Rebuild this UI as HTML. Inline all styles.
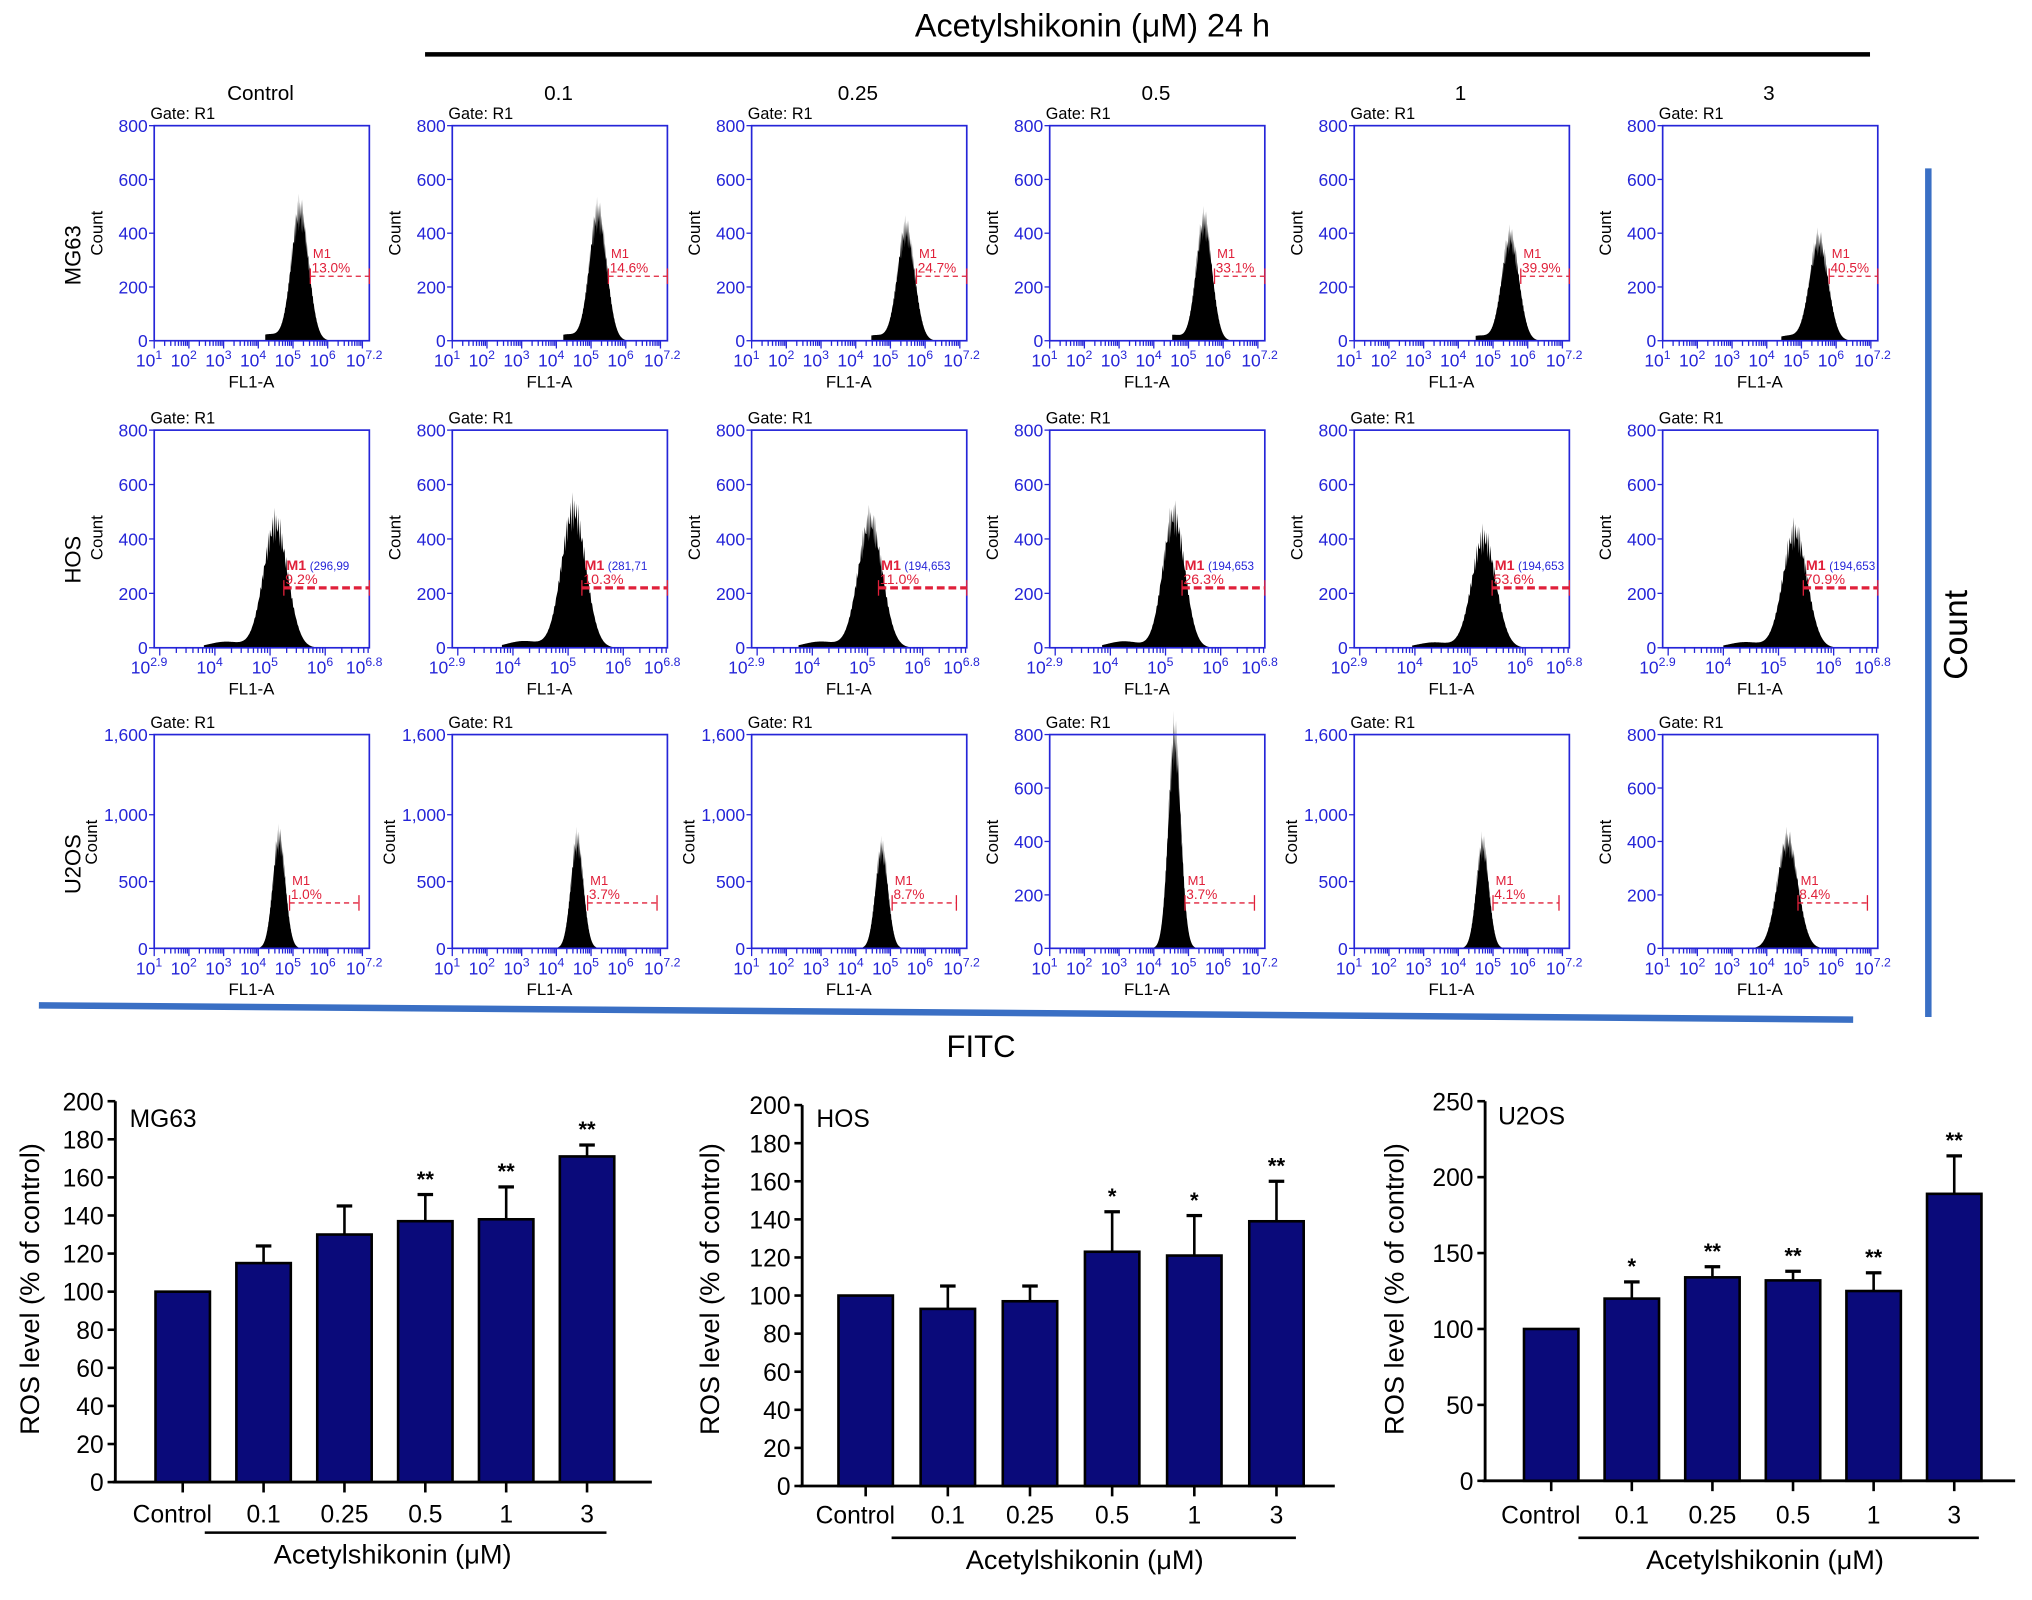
<!DOCTYPE html>
<html><head><meta charset="utf-8"><style>
html,body{margin:0;padding:0;background:#fff;}
svg{display:block;font-family:"Liberation Sans",sans-serif;}
</style></head><body>
<svg id="fig" width="2032" height="1600" viewBox="0 0 1568 1235" preserveAspectRatio="none" xmlns="http://www.w3.org/2000/svg">
<text x="843" y="28" font-size="25" text-anchor="middle">Acetylshikonin (μM) 24 h</text>
<line x1="328" y1="42" x2="1443" y2="42" stroke="#000" stroke-width="3.5"/>
<line x1="1488" y1="130" x2="1488" y2="785" stroke="#3a6fc4" stroke-width="5"/>
<text x="1518" y="490" font-size="26" text-anchor="middle" transform="rotate(-90 1518 490)">Count</text>
<line x1="30" y1="776" x2="1430" y2="787" stroke="#3a6fc4" stroke-width="5"/>
<text x="757" y="816" font-size="24" text-anchor="middle">FITC</text>
<g id="hists"></g>
<g id="bars"></g>
</svg>
<script>
const NS="http://www.w3.org/2000/svg";
function mk(tag,attrs,parent,text){const e=document.createElementNS(NS,tag);for(const k in attrs)e.setAttribute(k,attrs[k]);if(text!==undefined)e.textContent=text;parent.appendChild(e);return e;}

// ---------- Flow histogram data ----------
const colLabels=["Control","0.1","0.25","0.5","1","3"];
const rowLabels=["MG63","HOS","U2OS"];
const rowXMin=[1,2.9,1];
const rowXMax=[7.2,6.8,7.2];
const rowXTicks=[["1","2","3","4","5","6","7.2"],["2.9","4","5","6","6.8"],["1","2","3","4","5","6","7.2"]];
const yMaxGrid=[[800,800,800,800,800,800],[800,800,800,800,800,800],[1600,1600,1600,800,1600,800]];
const peakLog=[[5.2,5.2,5.45,5.45,5.5,5.5],[5.1,5.1,5.05,5.15,5.25,5.3],[4.6,4.6,4.75,4.6,4.7,4.6]];
const peakCount=[[480,470,410,440,380,370],[450,500,460,480,400,420],[820,800,740,780,770,400]];
const peakWidth=[[0.25,0.25,0.25,0.23,0.25,0.27],[0.22,0.22,0.22,0.2,0.22,0.22],[0.18,0.18,0.18,0.18,0.18,0.3]];
const m1Pct=[["13.0%","14.6%","24.7%","33.1%","39.9%","40.5%"],["9.2%","10.3%","11.0%","26.3%","53.6%","70.9%"],["1.0%","3.7%","8.7%","3.7%","4.1%","8.4%"]];
const m1Extra=["(296,99","(281,71","(194,653","(194,653","(194,653","(194,653"];
const m1Level=[[240,240,240,240,240,240],[220,220,220,220,220,220],[340,340,340,170,340,170]];

const colLeft=[119,349,580,810,1045,1283];
const boxW=166;
const rowTop=[97,332,567];
const boxH=[166,168,165];
const blue="#2525d8", red="#e0203a";
const H=document.getElementById('hists');

for(let r=0;r<3;r++){
  const lab=mk('text',{x:62,y:rowTop[r]+100,'font-size':17,'text-anchor':'middle',transform:`rotate(-90 62 ${rowTop[r]+100})`},H,rowLabels[r]);
  
  
  for(let c=0;c<6;c++){
    const g=mk('g',{},H);
    
    
    const L=colLeft[c],T=rowTop[r],W=boxW,Hh=boxH[r],B=T+Hh;
    const xmin=rowXMin[r],xmax=rowXMax[r],ymax=yMaxGrid[r][c];
    const xs=v=>L+(v-xmin)/(xmax-xmin)*W;
    const ys=v=>B-v/ymax*Hh;
    if(r===0){const h=mk('text',{x:L+82,y:77,'font-size':16,'text-anchor':'middle'},g,colLabels[c]);
      }
    mk('text',{x:L-3,y:T-5,'font-size':12.5},g,'Gate: R1');
    const pl=peakLog[r][c],pc=peakCount[r][c],sw=peakWidth[r][c];
    const lo=r===1?pl-1.3:pl-4*sw;
    let d=`M${xs(lo)},${B}`;
    const n=140;
    for(let i=0;i<=n;i++){
      const v=lo+(pl+4*sw-lo)*i/n;
      const z=(v-pl)/sw;
      let cnt=pc*Math.exp(-0.5*z*z);
      if(r!==2&&v<pl)cnt+=pc*0.05*Math.exp(-0.5*((v-(pl-0.9))/0.3)**2);
      cnt*=1+0.15*Math.sin(i*2.7)*Math.exp(-0.5*z*z);
      d+=` L${xs(v)},${ys(Math.max(0,cnt))}`;
    }
    d+=` L${xs(pl+4*sw)},${B} Z`;
    const p=mk('path',{d,fill:'#000'},g);
    
    mk('rect',{x:L,y:T,width:W,height:Hh,fill:'none',stroke:blue,'stroke-width':1.3},g);
    const labs=ymax===1600?[0,500,1000,1600]:[0,200,400,600,800];
    labs.forEach(v=>{
      mk('line',{x1:L-4,x2:L,y1:ys(v),y2:ys(v),stroke:blue,'stroke-width':1},g);
      mk('text',{x:L-5,y:ys(v)+5,'font-size':13.5,fill:blue,'text-anchor':'end'},g,v>=1000?v.toLocaleString('en-US'):String(v));
    });
    const cx=L-(ymax===1600?44:40);
    mk('text',{x:cx,y:T+83,'font-size':13,'text-anchor':'middle',transform:`rotate(-90 ${cx} ${T+83})`},g,'Count');
    for(let v=Math.ceil(xmin);v<=xmax;v++){
      for(let k=1;k<10;k++){const lv=v+Math.log10(k);if(lv>xmax)break;
        mk('line',{x1:xs(lv),x2:xs(lv),y1:B,y2:B+(k===1?6:4),stroke:blue,'stroke-width':1},g);}
    }
    rowXTicks[r].forEach(t=>{
      const x=xs(parseFloat(t));
      const tx=mk('text',{x:x-4,y:B+20,'font-size':13.5,fill:blue,'text-anchor':'middle'},g);
      mk('tspan',{},tx,'10');
      mk('tspan',{dy:-6,'font-size':9.5},tx,t);
    });
    mk('text',{x:L+W/2-8,y:B+36,'font-size':13,'text-anchor':'middle'},g,'FL1-A');
    const mx=xs(pl+(r===1?0.15:0.3)),my=ys(m1Level[r][c]);
    const mxEnd=r===2?L+W-8:L+W;
    mk('line',{x1:mx,x2:mxEnd,y1:my,y2:my,stroke:red,'stroke-width':r===1?2.5:1,'stroke-dasharray':r===1?'6,3':'4,3'},g);
    mk('line',{x1:mx,x2:mx,y1:my-6,y2:my+6,stroke:red,'stroke-width':1},g);
    mk('line',{x1:mxEnd,x2:mxEnd,y1:my-6,y2:my+6,stroke:red,'stroke-width':1},g);
    mk('text',{x:mx+2,y:my-14,'font-size':r===1?11:10,fill:red,'font-weight':r===1?'bold':'normal'},g,'M1');
    mk('text',{x:mx+1,y:my-3,'font-size':r===1?11:10.5,fill:red},g,m1Pct[r][c]);
    if(r===1) mk('text',{x:mx+20,y:my-14,'font-size':9,fill:blue},g,m1Extra[c]);
  }
}

// ---------- Bar chart data ----------
const barCategories=["Control","0.1","0.25","0.5","1","3"];
const mg63Values=[100,115,130,137,138,171];
const mg63Errors=[0,9,15,14,17,6];
const mg63Stars=["","","","**","**","**"];
const hosValues=[100,93,97,123,121,139];
const hosErrors=[0,12,8,21,21,21];
const hosStars=["","","","*","*","**"];
const u2osValues=[100,120,134,132,125,189];
const u2osErrors=[0,11,7,6,12,25];
const u2osStars=["","*","**","**","**","**"];

const charts=[
 {name:'mg63',label:'MG63',vals:mg63Values,errs:mg63Errors,stars:mg63Stars,ax:89,y0:1144,ytop:850,ymax:200,step:20,firstX:141,dx:62.4,xend:503,ytitleX:30,labelX:100,labelY:870,lineX:[158,468],lineY:1183,catY:1175,titleX:303},
 {name:'hos',label:'HOS',vals:hosValues,errs:hosErrors,stars:hosStars,ax:619,y0:1147,ytop:853,ymax:200,step:20,firstX:668,dx:63.4,xend:1030,ytitleX:555,labelX:630,labelY:870,lineX:[688,1000],lineY:1187,catY:1176,titleX:837},
 {name:'u2os',label:'U2OS',vals:u2osValues,errs:u2osErrors,stars:u2osStars,ax:1146,y0:1143,ytop:850,ymax:250,step:50,firstX:1197,dx:62.2,xend:1555,ytitleX:1083,labelX:1156,labelY:868,lineX:[1218,1527],lineY:1187,catY:1176,titleX:1362}
];
const BG=document.getElementById('bars');
charts.forEach(ch=>{
  const g=mk('g',{},BG);
  
  
  const ys=v=>ch.y0-v/ch.ymax*(ch.y0-ch.ytop);
  const xs=i=>ch.firstX+i*ch.dx;
  mk('line',{x1:ch.ax,x2:ch.ax,y1:ch.ytop,y2:ch.y0,stroke:'#000','stroke-width':2.2},g);
  mk('line',{x1:ch.ax-2,x2:ch.xend,y1:ch.y0,y2:ch.y0,stroke:'#000','stroke-width':2.2},g);
  for(let v=0;v<=ch.ymax;v+=ch.step){
    mk('line',{x1:ch.ax-6,x2:ch.ax,y1:ys(v),y2:ys(v),stroke:'#000','stroke-width':2},g);
    mk('text',{x:ch.ax-9,y:ys(v)+7,'font-size':19,'text-anchor':'end'},g,String(v));
  }
  const yt=mk('text',{x:ch.ytitleX,y:995,'font-size':21,'text-anchor':'middle',transform:`rotate(-90 ${ch.ytitleX} 995)`},g,'ROS level (% of control)');
  
  mk('text',{x:ch.labelX,y:ch.labelY,'font-size':19},g,ch.label);
  ch.vals.forEach((v,i)=>{
    const x=xs(i);
    mk('line',{x1:x,x2:x,y1:ch.y0,y2:ch.y0+8,stroke:'#000','stroke-width':2},g);
    const e=ch.errs[i];
    if(e>0){
      mk('line',{x1:x,x2:x,y1:ys(v),y2:ys(v+e),stroke:'#000','stroke-width':2},g);
      mk('line',{x1:x-6,x2:x+6,y1:ys(v+e),y2:ys(v+e),stroke:'#000','stroke-width':2.5},g);
    }
    const b=mk('rect',{x:x-21,y:ys(v),width:42,height:ch.y0-ys(v),fill:'#0a0a7a',stroke:'#000','stroke-width':2},g);
    
    
    if(ch.stars[i]) mk('text',{x:x,y:ys(v+e)-6,'font-size':17,'text-anchor':'middle','font-weight':'bold'},g,ch.stars[i]);
    mk('text',{x:i===0?x-8:x,y:ch.catY,'font-size':19,'text-anchor':'middle'},g,barCategories[i]);
  });
  mk('line',{x1:ch.lineX[0],x2:ch.lineX[1],y1:ch.lineY,y2:ch.lineY,stroke:'#000','stroke-width':2},g);
  const xt=mk('text',{x:ch.titleX,y:ch.lineY+24,'font-size':21,'text-anchor':'middle'},g,'Acetylshikonin (μM)');
  
});
</script>
</body></html>
